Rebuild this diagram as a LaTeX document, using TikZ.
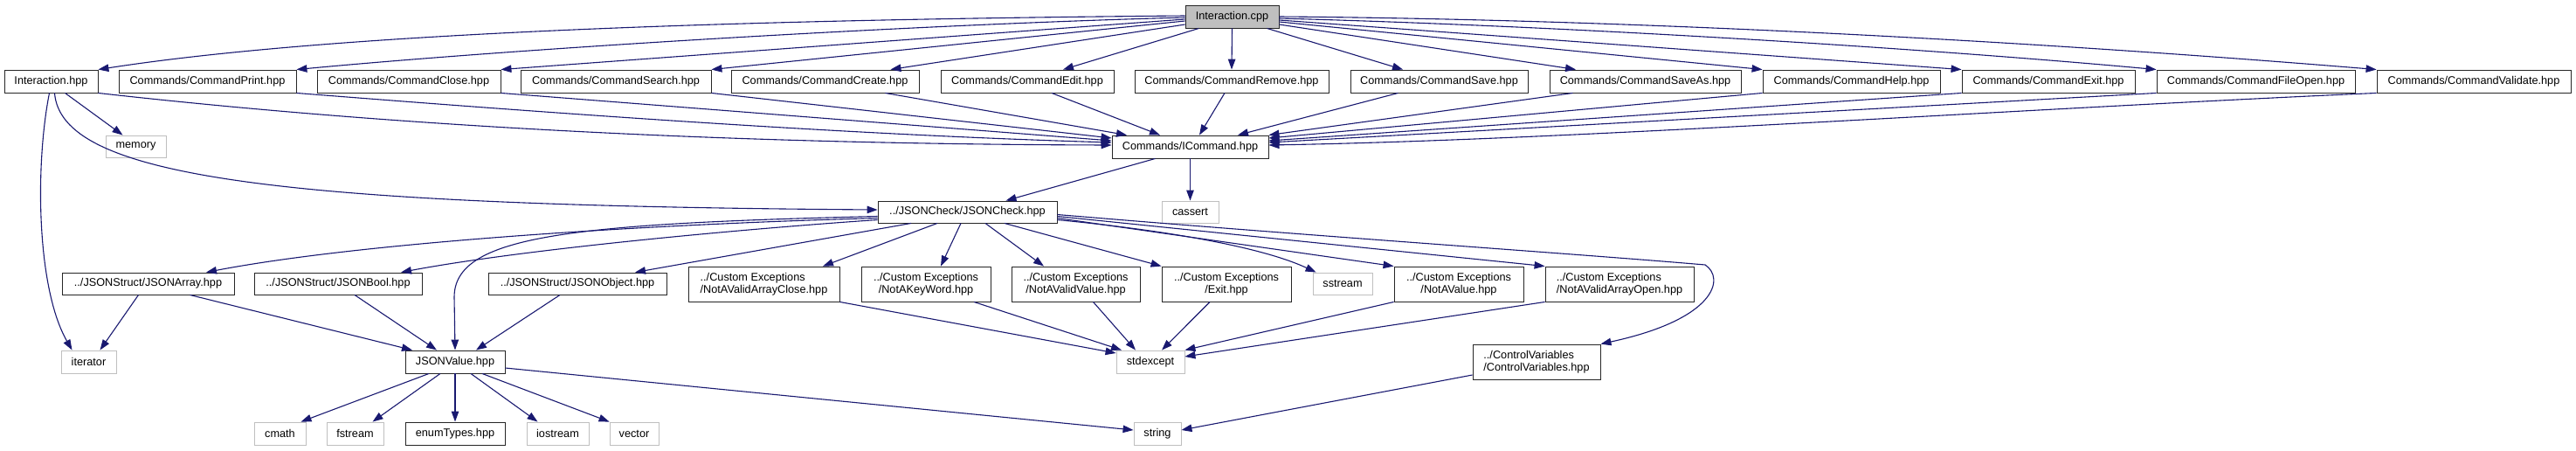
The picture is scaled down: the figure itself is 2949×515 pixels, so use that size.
\documentclass[tikz,border=0pt]{standalone}
\usepackage{fontspec}
\setmainfont{Liberation Sans}
\usetikzlibrary{arrows.meta,shadows}
\definecolor{edgec}{HTML}{191970}
\definecolor{grayb}{HTML}{BFBFBF}
\definecolor{cppfill}{HTML}{BFBFBF}
\newcommand{\fsz}{\fontsize{12.7}{13.6}\selectfont}
\tikzset{
  nd/.style={draw=black!85, line width=0.9pt, fill=white, inner sep=0pt, font=\fsz,
    general shadow={fill=black!55, shadow xshift=1.1pt, shadow yshift=-1.1pt}},
  ext/.style={nd, draw=grayb, general shadow={fill=grayb!60, shadow xshift=1.1pt, shadow yshift=-1.1pt}},
  one/.style={minimum height=26pt},
  two/.style={minimum height=40pt, align=center},
  twol/.style={minimum height=40pt, align=left},
  dep/.style={draw=edgec, line width=1.1pt, -{Triangle[length=12pt,width=8.5pt]}},
}
\begin{document}
\begin{tikzpicture}[x=1pt,y=-1pt]
\useasboundingbox (0,0) rectangle (2949,515);
% row 0
\node[nd, one, fill=cppfill, minimum width=107pt] (cpp) at (1410.5,19) {Interaction.cpp};
% row 1
\node[nd, one, minimum width=107pt] (ihpp) at (58.5,93) {Interaction.hpp};
\node[nd, one, minimum width=203pt] (print) at (237.5,93) {Commands/CommandPrint.hpp};
\node[nd, one, minimum width=210pt] (close) at (468,93) {Commands/CommandClose.hpp};
\node[nd, one, minimum width=218pt] (search) at (705,93) {Commands/CommandSearch.hpp};
\node[nd, one, minimum width=215pt] (create) at (944.5,93) {Commands/CommandCreate.hpp};
\node[nd, one, minimum width=198pt] (edit) at (1176,93) {Commands/CommandEdit.hpp};
\node[nd, one, minimum width=222pt] (remove) at (1410,93) {Commands/CommandRemove.hpp};
\node[nd, one, minimum width=203pt] (save) at (1647.5,93) {Commands/CommandSave.hpp};
\node[nd, one, minimum width=219pt] (saveas) at (1883.5,93) {Commands/CommandSaveAs.hpp};
\node[nd, one, minimum width=203pt] (help) at (2119.5,93) {Commands/CommandHelp.hpp};
\node[nd, one, minimum width=198pt] (exit) at (2345,93) {Commands/CommandExit.hpp};
\node[nd, one, minimum width=227pt] (fileopen) at (2582.5,93) {Commands/CommandFileOpen.hpp};
\node[nd, one, minimum width=222pt] (validate) at (2832,93) {Commands/CommandValidate.hpp};
% row 2
\node[ext, minimum height=25pt, minimum width=69pt] (memory) at (155.5,167.5) {memory};
\node[nd, one, minimum width=179pt] (icommand) at (1362.5,168) {Commands/ICommand.hpp};
% row 3
\node[nd, minimum height=25pt, minimum width=205pt] (jsoncheck) at (1107.5,242.5) {../JSONCheck/JSONCheck.hpp};
\node[ext, minimum height=25pt, minimum width=65pt] (cassert) at (1362.5,242.5) {cassert};
% row 4
\node[nd, minimum height=25pt, minimum width=197pt] (jsonarray) at (169.5,324.5) {../JSONStruct/JSONArray.hpp};
\node[nd, minimum height=25pt, minimum width=192pt] (jsonbool) at (387,324.5) {../JSONStruct/JSONBool.hpp};
\node[nd, minimum height=25pt, minimum width=204pt] (jsonobject) at (661,324.5) {../JSONStruct/JSONObject.hpp};
\node[nd, twol, minimum width=173pt] (arrclose) at (874.5,325) {../Custom Exceptions\\/NotAValidArrayClose.hpp};
\node[nd, two, minimum width=148pt] (keyword) at (1060,325) {../Custom Exceptions\\/NotAKeyWord.hpp};
\node[nd, two, minimum width=147pt] (validvalue) at (1231.5,325) {../Custom Exceptions\\/NotAValidValue.hpp};
\node[nd, two, minimum width=148pt] (exitexc) at (1404,325) {../Custom Exceptions\\/Exit.hpp};
\node[ext, minimum height=25pt, minimum width=68pt] (sstream) at (1537,324.5) {sstream};
\node[nd, two, minimum width=148pt] (notavalue) at (1670,325) {../Custom Exceptions\\/NotAValue.hpp};
\node[nd, twol, minimum width=170pt] (arropen) at (1854,325) {../Custom Exceptions\\/NotAValidArrayOpen.hpp};
% row 5
\node[ext, one, minimum width=63pt] (iterator) at (101.5,414) {iterator};
\node[nd, one, minimum width=114pt] (jsonvalue) at (521,414) {JSONValue.hpp};
\node[ext, one, minimum width=78pt] (stdexcept) at (1317,414) {stdexcept};
\node[nd, twol, minimum width=146pt] (controlvars) at (1759,414) {../ControlVariables\\/ControlVariables.hpp};
% row 6
\node[ext, one, minimum width=59pt] (cmath) at (320.5,496) {cmath};
\node[ext, one, minimum width=65pt] (fstream) at (406.5,496) {fstream};
\node[nd, one, minimum width=114pt] (enumtypes) at (521,496) {enumTypes.hpp};
\node[ext, one, minimum width=71pt] (iostream) at (638.5,496) {iostream};
\node[ext, one, minimum width=56pt] (vector) at (726,496) {vector};
\node[ext, one, minimum width=54pt] (string) at (1325,496) {string};

% cpp edges
\draw[dep] ([yshift=1pt]cpp.west) .. controls (900,22) and (400,35) .. (ihpp.north east);
\draw[dep] ([yshift=-1pt]cpp.west) .. controls (1050,28) and (600,55) .. (print.north east);
\draw[dep] ([yshift=-3pt]cpp.west) -- (close.north east);
\draw[dep] ([yshift=-5pt]cpp.west) -- (search.north east);
\draw[dep] ([yshift=-9pt]cpp.west) -- ([xshift=-33pt]create.north east);
\draw[dep] ([xshift=-38pt]cpp.south) -- ([xshift=41pt]edit.north);
\draw[dep] (cpp.south) -- (remove.north);
\draw[dep] ([xshift=40pt]cpp.south) -- ([xshift=-41.5pt]save.north);
\draw[dep] ([yshift=-9pt]cpp.east) -- ([xshift=-79.5pt]saveas.north);
\draw[dep] ([yshift=-6pt]cpp.east) -- (help.north west);
\draw[dep] ([yshift=-4pt]cpp.east) -- (exit.north west);
\draw[dep] ([yshift=-2pt]cpp.east) .. controls (1800,30) and (2200,55) .. (fileopen.north west);
\draw[dep] ([yshift=0pt]cpp.east) .. controls (1850,22) and (2300,45) .. (validate.north west);
% row1 -> ICommand
\draw[dep] (ihpp.south east) .. controls (500,150) and (900,165) .. ([yshift=2pt]icommand.west);
\draw[dep] (print.south east) .. controls (700,135) and (1000,155) .. ([yshift=5pt]icommand.west);
\draw[dep] (close.south east) -- ([yshift=7pt]icommand.west);
\draw[dep] (search.south east) -- ([yshift=10pt]icommand.west);
\draw[dep] ([xshift=-39pt]create.south east) -- ([xshift=-72.5pt]icommand.north);
\draw[dep] ([xshift=28pt]edit.south) -- ([xshift=-34.5pt]icommand.north);
\draw[dep] ([xshift=-8pt]remove.south) -- ([xshift=10.5pt]icommand.north);
\draw[dep] ([xshift=-47pt]save.south) -- ([xshift=54.5pt]icommand.north);
\draw[dep] ([xshift=-83pt]saveas.south) -- (icommand.north east);
\draw[dep] (help.south west) -- ([yshift=10pt]icommand.east);
\draw[dep] (exit.south west) -- ([yshift=7pt]icommand.east);
\draw[dep] (fileopen.south west) -- ([yshift=5pt]icommand.east);
\draw[dep] (validate.south west) .. controls (2300,125) and (1800,160) .. ([yshift=2pt]icommand.east);
% Interaction.hpp
\draw[dep] ([xshift=16pt]ihpp.south) -- ([xshift=-15pt]memory.north);
\draw[dep] ([xshift=-2pt]ihpp.south) .. controls (40,190) and (42,330) .. ([xshift=-19pt]iterator.north);
\draw[dep] ([xshift=4pt]ihpp.south) .. controls (70,200) and (300,235) .. ([yshift=2.5pt]jsoncheck.west);
% ICommand
\draw[dep] ([xshift=-40pt]icommand.south) -- ([xshift=44pt]jsoncheck.north);
\draw[dep] (icommand.south) -- (cassert.north);
% JSONCheck
\draw[dep] ([yshift=-7pt]jsoncheck.west) .. controls (700,258) and (400,280) .. ([xshift=66.5pt]jsonarray.north);
\draw[dep] ([yshift=-9pt]jsoncheck.west) .. controls (850,262) and (600,285) .. ([xshift=72pt]jsonbool.north);
\draw[dep] ([yshift=-5pt]jsoncheck.west) .. controls (650,256) and (520,270) .. (520,340) -- (jsonvalue.north);
\draw[dep] ([xshift=-64.5pt]jsoncheck.south) -- ([xshift=66pt]jsonobject.north);
\draw[dep] ([xshift=-34.5pt]jsoncheck.south) -- ([xshift=67.5pt]arrclose.north);
\draw[dep] ([xshift=-7.5pt]jsoncheck.south) -- ([xshift=17pt]keyword.north);
\draw[dep] ([xshift=20.5pt]jsoncheck.south) -- ([xshift=-36.5pt]validvalue.north);
\draw[dep] ([xshift=42.5pt]jsoncheck.south) -- (exitexc.north west);
\draw[dep] ([yshift=-9pt]jsoncheck.east) .. controls (1350,265) and (1450,285) .. ([xshift=4pt]sstream.north west);
\draw[dep] ([yshift=-7pt]jsoncheck.east) -- (notavalue.north west);
\draw[dep] ([yshift=-5pt]jsoncheck.east) -- (arropen.north west);
\draw[dep] ([yshift=-3pt]jsoncheck.east) .. controls (1500,270) and (1800,290) .. (1952,303)
   .. controls (1975,318) and (1965,365) .. (controlvars.north east);
% lower
\draw[dep] ([xshift=-11pt]jsonarray.south) -- ([xshift=13pt]iterator.north);
\draw[dep] ([xshift=48pt]jsonarray.south) -- ([xshift=-49pt]jsonvalue.north);
\draw[dep] ([xshift=19pt]jsonbool.south) -- ([xshift=-21pt]jsonvalue.north);
\draw[dep] ([xshift=-20pt]jsonobject.south) -- ([xshift=24pt]jsonvalue.north);
\draw[dep] ([xshift=-30pt]jsonvalue.south) -- ([xshift=24pt]cmath.north);
\draw[dep] ([xshift=-17pt]jsonvalue.south) -- ([xshift=20pt]fstream.north);
\draw[dep] (jsonvalue.south) -- (enumtypes.north);
\draw[dep] ([xshift=18pt]jsonvalue.south) -- ([xshift=-23pt]iostream.north);
\draw[dep] ([xshift=31pt]jsonvalue.south) -- (vector.north west);
\draw[dep] ([yshift=-7pt]jsonvalue.east) -- ([yshift=4pt]string.west);
\draw[dep] ([yshift=-15pt]controlvars.west) -- ([yshift=4pt]string.east);
\draw[dep] (arrclose.south east) -- ([yshift=10pt]stdexcept.west);
\draw[dep] ([xshift=55pt]keyword.south) -- ([xshift=-33pt]stdexcept.north);
\draw[dep] ([xshift=20pt]validvalue.south) -- ([xshift=-17pt]stdexcept.north);
\draw[dep] ([xshift=-19pt]exitexc.south) -- ([xshift=13pt]stdexcept.north);
\draw[dep] (notavalue.south west) -- (stdexcept.north east);
\draw[dep] (arropen.south west) -- ([yshift=6pt]stdexcept.east);
\end{tikzpicture}
\end{document}
